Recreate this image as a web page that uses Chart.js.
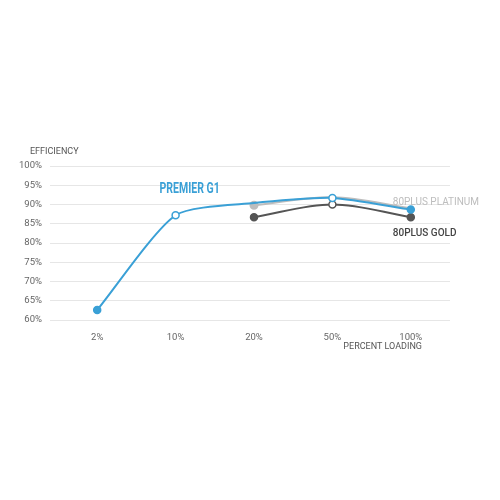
<!DOCTYPE html>
<html>
<head>
<meta charset="utf-8">
<script src="https://cdn.jsdelivr.net/npm/chart.js@4"></script>
<style>
  html, body { margin: 0; padding: 0; background: #fff; }
  #wrap { width: 500px; height: 500px; }
</style>
</head>
<body>
<div id="wrap"><canvas id="effChart"></canvas></div>
<script>
// chart values
const loads = ["2%", "10%", "20%", "50%", "100%"];
const premierG1 = [62.6, 87.2, 90.4, 91.7, 88.7];
const platinum = [null, null, 89.8, 91.9, 89.0];
const gold = [null, null, 86.7, 90.0, 86.7];
const yTicks = [60, 65, 70, 75, 80, 85, 90, 95, 100];

const blue = "#3aa0d6";
const goldColor = "#555555";
const platColor = "#bdbdbd";

// text labels drawn on the canvas
const labelPlugin = {
  id: "labels",
  afterDatasetsDraw(chart) {
    const ctx = chart.ctx;
    const x = chart.scales.x;
    const y = chart.scales.y;
    ctx.save();
    ctx.textBaseline = "middle";
    ctx.fillStyle = "#555";
    ctx.font = "9px Roboto";
    ctx.textAlign = "left";
    ctx.fillText("EFFICIENCY", 30, 152);
    ctx.textAlign = "right";
    ctx.fillText("PERCENT LOADING", 422, 347);

    // narrow bold series name
    ctx.textAlign = "left";
    ctx.fillStyle = blue;
    ctx.font = "bold 15px Roboto";
    ctx.save();
    ctx.translate(x.getPixelForValue(1) - 16, y.getPixelForValue(94));
    ctx.scale(0.7, 1);
    ctx.fillText("PREMIER G1", 0, 0);
    ctx.restore();

    ctx.fillStyle = platColor;
    ctx.font = "10px Roboto";
    ctx.fillText("80PLUS PLATINUM", x.getPixelForValue(4) - 18, y.getPixelForValue(90.6));
    ctx.fillStyle = "#444";
    ctx.font = "500 10px Roboto";
    ctx.fillText("80PLUS GOLD", x.getPixelForValue(4) - 18, y.getPixelForValue(82.4));
    ctx.restore();
  }
};

const ctx1 = document.getElementById("effChart").getContext("2d");

const effChart = new Chart(ctx1, {
  type: "line",
  data: {
    labels: loads,
    datasets: [
      {
        label: "80PLUS GOLD",
        data: gold,
        borderColor: goldColor,
        backgroundColor: [goldColor, goldColor, goldColor, "#ffffff", goldColor],
        pointBorderColor: goldColor,
        pointBorderWidth: 1.5,
        pointRadius: 3.5,
        borderWidth: 2,
        tension: 0.35,
        order: 3,
      },
      {
        label: "80PLUS PLATINUM",
        data: platinum,
        borderColor: platColor,
        backgroundColor: platColor,
        pointBorderColor: platColor,
        pointRadius: [0, 0, 3.5, 0, 0],
        borderWidth: 2,
        tension: 0.35,
        order: 2,
      },
      {
        label: "PREMIER G1",
        data: premierG1,
        borderColor: blue,
        backgroundColor: [blue, "#ffffff", blue, "#ffffff", blue],
        pointBorderColor: blue,
        pointBorderWidth: 1.5,
        pointRadius: [3.5, 3.5, 0, 3.5, 3.5],
        borderWidth: 2,
        tension: 0.22,
        order: 1,
      },
    ],
  },
  options: {
    responsive: true,
    maintainAspectRatio: false,
    animation: false,
    layout: { padding: { top: 166, right: 50, bottom: 150, left: 0 } },
    plugins: {
      legend: { display: false },
      tooltip: { enabled: false },
    },
    scales: {
      x: {
        offset: true,
        grid: { display: false },
        border: { display: false },
        ticks: { color: "#666", font: { family: "Roboto", size: 9.5 }, padding: 4 },
        afterFit(scale) { scale.height = 30; },
      },
      y: {
        min: 60,
        max: 100,
        afterBuildTicks(scale) { scale.ticks = yTicks.map(v => ({ value: v })); },
        grid: { color: "#e6e6e6", lineWidth: 1 },
        border: { display: false },
        ticks: {
          color: "#666",
          font: { family: "Roboto", size: 9.5 },
          padding: 8,
          callback: v => v + "%",
        },
        afterFit(scale) { scale.width = 58; },
      },
    },
  },
  plugins: [labelPlugin],
});
</script>
</body>
</html>
